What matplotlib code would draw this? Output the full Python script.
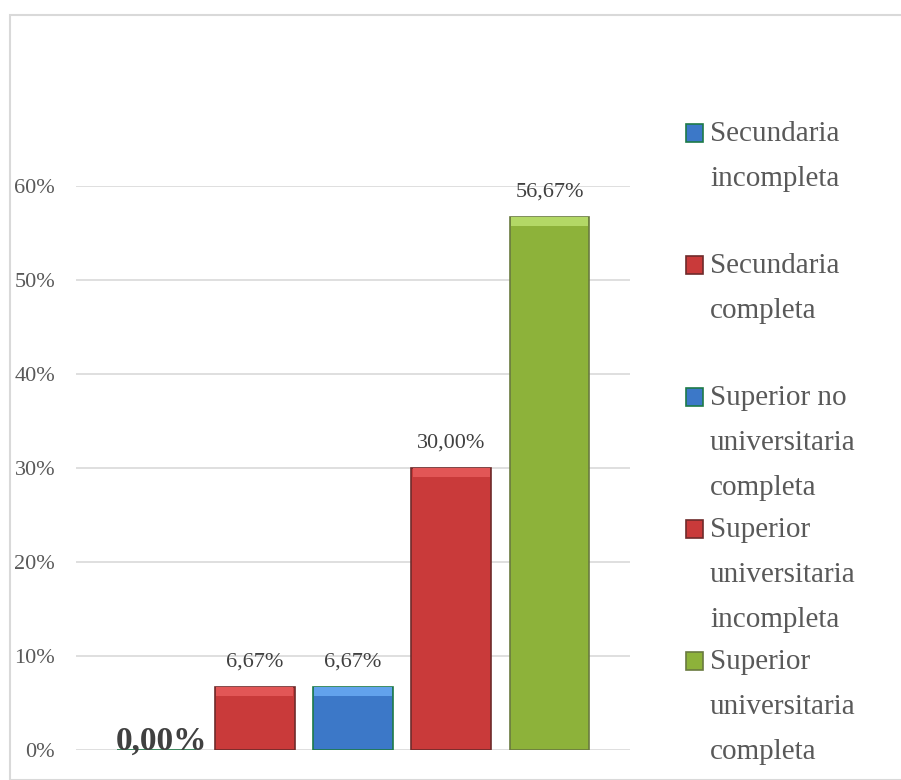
import matplotlib.pyplot as plt
from matplotlib.patches import Rectangle

plt.rcParams['font.family'] = ['Liberation Serif', 'DejaVu Serif']

# data
categories = ['Secundaria\nincompleta', 'Secundaria\ncompleta',
              'Superior no\nuniversitaria\ncompleta',
              'Superior\nuniversitaria\nincompleta',
              'Superior\nuniversitaria\ncompleta']
values = [0.0, 6.67, 6.67, 30.00, 56.67]
value_labels = ['0,00%', '6,67%', '6,67%', '30,00%', '56,67%']
yticks = [0, 10, 20, 30, 40, 50, 60]
ytick_labels = ['0%', '10%', '20%', '30%', '40%', '50%', '60%']

# colours per category: body, light bevel, edge
body = ['#3C78C8', '#C93A3A', '#3C78C8', '#C93A3A', '#8DB23A']
light = ['#62A2EC', '#E25656', '#62A2EC', '#E25656', '#B3D866']
edge = ['#1E7A48', '#6E2B2B', '#1E7A48', '#6E2B2B', '#6A7A40']

W, H = 901, 780
fig = plt.figure(figsize=(W / 100, H / 100), dpi=100)

# outer chart border
fig.patches.append(Rectangle((10 / W, 0), 1, 1 - 15 / H, transform=fig.transFigure,
                             fill=False, edgecolor='#D9D9D9', linewidth=1.5))

ax = fig.add_axes([76 / W, 30 / H, (630 - 76) / W, (750 - 186) / H])
ax.set_xlim(-0.82, 4.82)
ax.set_ylim(0, 60)

x = list(range(len(values)))
bw = 0.81
bevel = 60 / 564 * 9  # about 9 px
ax.bar(x, values, width=bw, color=body, edgecolor=edge, linewidth=1.2, zorder=3)
tops = [v - bevel if v > bevel else v for v in values]
bev_h = [bevel if v > bevel else 0 for v in values]
ax.bar(x, bev_h, bottom=tops, width=bw * 0.97, color=light, linewidth=0, zorder=4)

for i, (v, lab) in enumerate(zip(values, value_labels)):
    if v == 0:
        ax.text(i + 0.05, v, lab, ha='center', va='baseline', fontsize=24,
                fontweight='bold', color='#404040', zorder=5)
    else:
        ax.text(i, v + 2.7, lab, ha='center', va='center', fontsize=16,
                color='#404040', zorder=5)

ax.set_yticks(yticks)
ax.set_yticklabels(ytick_labels, fontsize=16, color='#595959')
ax.set_xticks([])
ax.tick_params(axis='y', length=0, pad=15)
ax.grid(axis='y', color='#D9D9D9', linewidth=1.2, zorder=0)
for s in ax.spines.values():
    s.set_visible(False)

# legend, drawn by hand to keep Excel's row spacing
for i, lab in enumerate(categories):
    yc = 133 + i * 132
    fig.patches.append(Rectangle((686 / W, 1 - (yc + 9) / H), 17 / W, 18 / H,
                                 transform=fig.transFigure, facecolor=body[i],
                                 edgecolor=edge[i], linewidth=1.2))
    fig.text(710 / W, 1 - (yc - 12) / H, lab, ha='left', va='top', fontsize=21,
             color='#595959', linespacing=1.95)

fig.savefig('out.png', dpi=100)
